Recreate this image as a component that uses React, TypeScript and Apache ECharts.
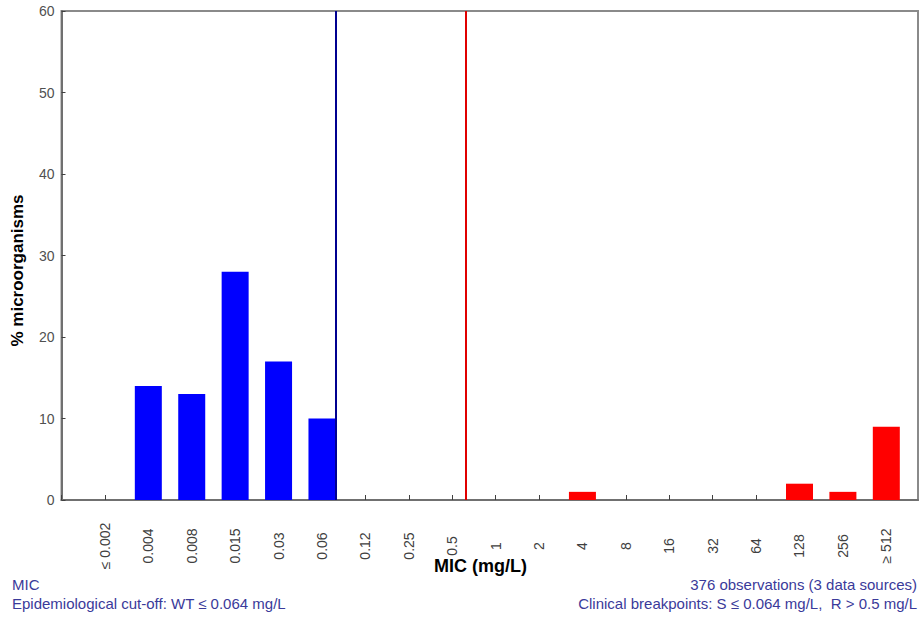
import React, { useEffect, useRef } from "react";
import * as echarts from "echarts";

const categories = ["≤ 0.002", "0.004", "0.008", "0.015", "0.03", "0.06", "0.12", "0.25", "0.5", "1", "2", "4", "8", "16", "32", "64", "128", "256", "≥ 512"];
const percentValues = [0, 14, 13, 28, 17, 10, 0, 0, 0, 0, 0, 1, 0, 0, 0, 0, 2, 1, 9];
const yTicks = [0, 10, 20, 30, 40, 50, 60];
const wtLastIndex = 5; // ECOFF after 0.06
const rBreakIndex = 8; // R > 0.5
const leftNotes = ["MIC", "Epidemiological cut-off: WT ≤ 0.064 mg/L"];
const rightNotes = ["376 observations (3 data sources)", "Clinical breakpoints: S ≤ 0.064 mg/L,  R > 0.5 mg/L"];

export default function App() {
  const ref = useRef<HTMLDivElement>(null);
  useEffect(() => {
    document.body.style.margin = "0";
    const chart = echarts.init(ref.current!, null, { renderer: "svg" });
    const barFrac = 0.31;
    const barW = 27;
    const font = "Arial, 'Liberation Sans', sans-serif";
    const noteColor = "#3a3a9a";
    chart.setOption({
      animation: false,
      grid: {
        left: 61.5, top: 11, right: 2, bottom: 119,
        outerBoundsMode: "none", containLabel: false,
        show: true, borderColor: "#8a8a8a", borderWidth: 2, backgroundColor: "#fff",
      },
      xAxis: {
        type: "value",
        min: -1,
        max: 18.73,
        interval: 1,
        splitLine: { show: false },
        axisLine: { show: true, onZero: false, lineStyle: { color: "#707070", width: 2 } },
        axisTick: { show: true, inside: true, length: 5, lineStyle: { color: "#404040" } },
        axisLabel: {
          rotate: 90,
          align: "center",
          verticalAlign: "middle",
          margin: 46,
          fontSize: 14,
          fontFamily: font,
          color: "#404040",
          showMaxLabel: false,
          formatter: (v: number) => {
            const i = Math.round(v);
            return i >= 0 && i < categories.length && Math.abs(v - i) < 1e-6 ? categories[i] : "";
          },
        },
      },
      yAxis: {
        type: "value",
        min: yTicks[0],
        max: yTicks[yTicks.length - 1],
        interval: 10,
        splitLine: { show: false },
        axisLine: { show: true, onZero: false, lineStyle: { color: "#707070", width: 2 } },
        axisTick: { show: true, inside: true, length: 4, lineStyle: { color: "#404040" } },
        axisLabel: { fontSize: 14, fontFamily: font, color: "#505050", margin: 7 },
        name: "% microorganisms",
        nameLocation: "middle",
        nameGap: 36,
        nameRotate: 90,
        nameTextStyle: { fontSize: 17, fontWeight: "bold", fontFamily: font, color: "#000", padding: [0, 30, 0, 0] },
      },
      series: [
        {
          type: "custom",
          data: percentValues.map((v, i) => [i, v]),
          encode: { x: 0, y: 1 },
          renderItem: (params: any, api: any) => {
            const idx = api.value(0);
            const val = api.value(1);
            if (!val) return null;
            const base = api.coord([idx, 0]);
            const top = api.coord([idx, val]);
            return {
              type: "rect",
              shape: { x: base[0] - barW / 2, y: top[1], width: barW, height: base[1] - top[1] },
              style: { fill: idx <= wtLastIndex ? "#0000ff" : "#ff0000" },
            };
          },
        },
        {
          type: "line",
          data: [],
          markLine: {
            silent: true,
            symbol: "none",
            label: { show: false },
            data: [
              { xAxis: wtLastIndex + barFrac, lineStyle: { color: "#000090", width: 2, type: "solid" } },
              { xAxis: rBreakIndex + barFrac, lineStyle: { color: "#e00000", width: 2, type: "solid" } },
            ],
          },
        },
      ],
      graphic: [
        { type: "text", left: 434, top: 557, style: { text: "MIC (mg/L)", font: `bold 18px ${font}`, fill: "#000" } },
        { type: "text", left: 12, top: 577, style: { text: leftNotes[0], font: `15px ${font}`, fill: noteColor } },
        { type: "text", left: 12, top: 596, style: { text: leftNotes[1], font: `15px ${font}`, fill: noteColor } },
        { type: "text", right: 3, top: 577, style: { text: rightNotes[0], font: `15px ${font}`, fill: noteColor } },
        { type: "text", right: 3, top: 596, style: { text: rightNotes[1], font: `15px ${font}`, fill: noteColor } },
      ],
    });
    return () => chart.dispose();
  }, []);
  return <div ref={ref} style={{ width: 920, height: 619, position: "absolute", left: 0, top: 0 }} />;
}
